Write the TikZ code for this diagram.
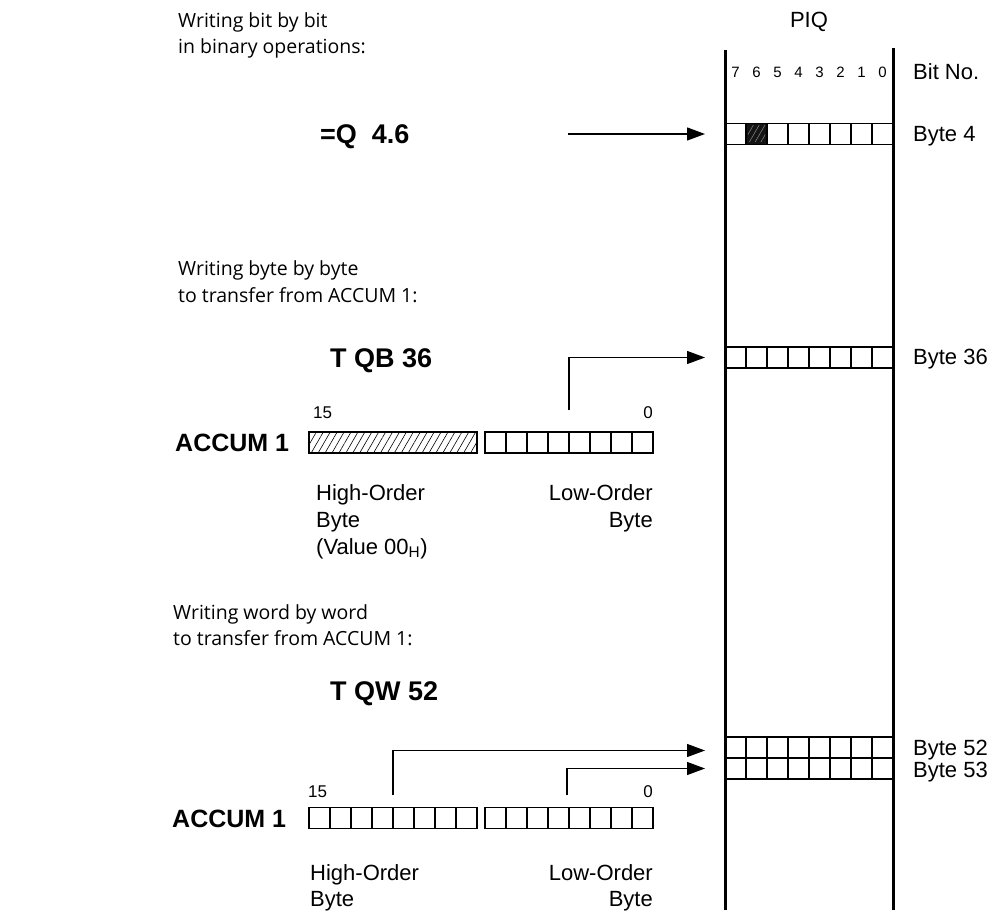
\documentclass[tikz,border=0pt]{standalone}
\usepackage{fontspec}
\setmainfont{Liberation Sans}
\newfontfamily\hdrfont{Open Sans}
\usetikzlibrary{arrows.meta,calc,patterns.meta}
\newcommand\drawcells[1]{%
  \foreach \i in {1,...,7}
    \draw[line width=1.3pt] ($(#1.north west)!\i/8!(#1.north east)$) -- ($(#1.south west)!\i/8!(#1.south east)$);}
\begin{document}
\begin{tikzpicture}[x=1pt,y=-1pt,
  txt/.style={font=\fontsize{22}{26}\selectfont, inner sep=0pt, anchor=base west},
  txtr/.style={font=\fontsize{22}{26}\selectfont, inner sep=0pt, anchor=base east},
  hdr/.style={font=\hdrfont\fontsize{19.5}{26}\selectfont, inner sep=0pt, anchor=base west},
  cmd/.style={font=\bfseries\fontsize{27}{30}\selectfont, inner sep=0pt, anchor=base west},
  acc/.style={font=\bfseries\fontsize{25}{28}\selectfont, inner sep=0pt, anchor=base west},
  bitno/.style={font=\fontsize{15}{17}\selectfont, inner sep=0pt, anchor=base},
  idx/.style={font=\fontsize{17}{19}\selectfont, inner sep=0pt},
  cellrow/.style={draw, line width=1.3pt, minimum width=168pt, minimum height=21pt, inner sep=0pt, outer sep=0pt},
  piq/.style={line width=3pt},
  arr/.style={line width=1.3pt, -{Triangle[length=18pt,width=13pt]}},
]
\useasboundingbox[fill=white] (0,0) rectangle (1005,920);

% PIQ columns
\coordinate (piqTL) at (725,50);
\coordinate (piqBL) at (725,910);
\coordinate (piqTR) at (893,48);
\coordinate (piqBR) at (893,910);
\draw[piq] (piqTL) -- (piqBL);
\draw[piq] (piqTR) -- (piqBR);
\node[txt, anchor=base] (piqlbl) at (809,28) {PIQ};
\foreach \b [count=\k] in {7,6,5,4,3,2,1,0}
  \node[bitno] (bit\b) at ({735.5+21*(\k-1)},78) {\b};
\node[txt] (bitnolbl) at (913,80) {Bit No.};

% bit 6 filled cell
\fill[black!92] (746,123.5) rectangle (767,144.5);
\fill[pattern={Lines[angle=60,distance=5pt,line width=0.5pt]}, pattern color=black!45] (748,126) rectangle (765,142);

% PIQ byte rows
\node[cellrow] (b4) at (809,134) {}; \drawcells{b4}
\node[cellrow] (b36) at (809,357.5) {}; \drawcells{b36}
\node[cellrow] (b52) at (809,747.5) {}; \drawcells{b52}
\node[cellrow] (b53) at (809,768.5) {}; \drawcells{b53}
\node[txt] (l4) at (913,142) {Byte 4};
\node[txt] (l36) at (913,365) {Byte 36};
\node[txt] (l52) at (913,755) {Byte 52};
\node[txt] (l53) at (913,777) {Byte 53};

% Bit by bit
\node[hdr] (h1a) at (178,28) {Writing bit by bit};
\node[hdr] (h1b) at (178,54) {in binary operations:};
\node[cmd] (c1) at (320,144) {=Q\ \ 4.6};
\coordinate (q46src) at (568,134);
\draw[arr] (q46src) -- ([xshift=-20pt]b4.west);

% Byte by byte
\node[hdr] (h2a) at (178,276) {Writing byte by byte};
\node[hdr] (h2b) at (178,303) {to transfer from ACCUM 1:};
\node[cmd] (c2) at (330,367) {T QB 36};
\node[acc] (acc1) at (175,451) {ACCUM 1};
\node[cellrow, pattern={Lines[angle=60,distance=6pt,line width=0.6pt]}] (a1h) at (393,442.5) {};
\node[cellrow] (a1l) at (569,442.5) {}; \drawcells{a1l}
\node[idx, anchor=base west] (a1n15) at (313,418) {15};
\node[idx, anchor=base east] (a1n0) at (653,418) {0};
\coordinate (qb36src) at (569,410);
\draw[arr] (qb36src) |- ([xshift=-20pt]b36.west);
\node[txt] (a1hl1) at (316,500) {High-Order};
\node[txt] (a1hl2) at (316,527) {Byte};
\node[txt] (a1hl3) at (316,554) {(Value 00\textsubscript{H})};
\node[txtr] (a1ll1) at (653,500) {Low-Order};
\node[txtr] (a1ll2) at (653,527) {Byte};

% Word by word
\node[hdr] (h3a) at (173,619) {Writing word by word};
\node[hdr] (h3b) at (173,645) {to transfer from ACCUM 1:};
\node[cmd] (c3) at (330,700) {T QW 52};
\node[acc] (acc2) at (172,827) {ACCUM 1};
\node[cellrow] (a2h) at (393,818) {}; \drawcells{a2h}
\node[cellrow] (a2l) at (569,818) {}; \drawcells{a2l}
\node[idx, anchor=base west] (a2n15) at (308,797) {15};
\node[idx, anchor=base east] (a2n0) at (653,797) {0};
\coordinate (qwhsrc) at (393,795);
\coordinate (qwlsrc) at (567,795);
\draw[arr] (qwhsrc) |- ([xshift=-20pt,yshift=-3pt]b52.west);
\draw[arr] (qwlsrc) |- ([xshift=-20pt]b53.west);
\node[txt] (a2hl1) at (310,880) {High-Order};
\node[txt] (a2hl2) at (310,906) {Byte};
\node[txtr] (a2ll1) at (653,880) {Low-Order};
\node[txtr] (a2ll2) at (653,906) {Byte};
\end{tikzpicture}
\end{document}
